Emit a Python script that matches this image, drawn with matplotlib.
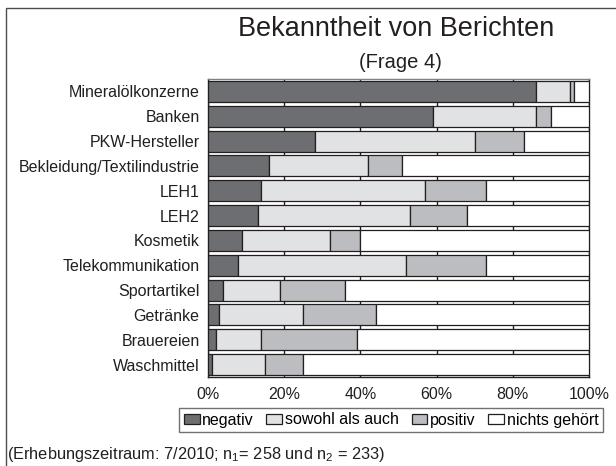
import numpy as np
import matplotlib.pyplot as plt
from matplotlib.patches import Rectangle

plt.rcParams['font.family'] = ['Liberation Sans', 'DejaVu Sans']
plt.rcParams['mathtext.default'] = 'regular'

branchen = ["Mineralölkonzerne", "Banken", "PKW-Hersteller", "Bekleidung/Textilindustrie",
            "LEH1", "LEH2", "Kosmetik", "Telekommunikation", "Sportartikel",
            "Getränke", "Brauereien", "Waschmittel"]
negativ = [86, 59, 28, 16, 14, 13, 9, 8, 4, 3, 2, 1]
sowohl = [9, 27, 42, 26, 43, 40, 23, 44, 15, 22, 12, 14]
positiv = [1, 4, 13, 9, 16, 15, 8, 21, 17, 19, 25, 10]
nichts = [4, 10, 17, 49, 27, 32, 60, 27, 64, 56, 61, 75]

reihen = [("negativ", negativ, "#6d6e71"),
          ("sowohl als auch", sowohl, "#e1e2e4"),
          ("positiv", positiv, "#bcbdc0"),
          ("nichts gehört", nichts, "#ffffff")]

fig = plt.figure(figsize=(6.16, 4.66), dpi=100)
ax = fig.add_axes([208/616, 1-377/466, 381/616, 298/466])

y = np.arange(len(branchen))
links = np.zeros(len(branchen))
handles = []
for name, werte, farbe in reihen:
    b = ax.barh(y, werte, left=links, height=0.85, color=farbe,
                edgecolor="#231f20", linewidth=0.9, label=name, zorder=3)
    handles.append(b)
    links += np.array(werte)

ax.set_xlim(0, 100)
ax.set_ylim(len(branchen) - 0.5, -0.5)
ax.set_yticks(y)
ax.set_yticklabels(branchen, fontsize=11.5, color="#231f20")
ax.set_xticks([0, 20, 40, 60, 80, 100])
ax.set_xticklabels(["0%", "20%", "40%", "60%", "80%", "100%"], fontsize=11.5, color="#231f20")
ax.tick_params(axis="both", length=0)
ax.tick_params(axis="x", pad=7)
ax.tick_params(axis="y", pad=6)
ax.xaxis.grid(True, color="#231f20", linewidth=1.0, zorder=0)
ax.set_axisbelow(True)
for s in ["left", "bottom", "right"]:
    ax.spines[s].set_color("#231f20")
    ax.spines[s].set_linewidth(1.0)
ax.spines["top"].set_color("#808080")
ax.spines["top"].set_linewidth(1.0)

fig.text(396/616, 1-36/466, "Bekanntheit von Berichten", ha="center", va="baseline",
         fontsize=19.5, color="#231f20")
fig.text(400/616, 1-68/466, "(Frage 4)", ha="center", va="baseline",
         fontsize=14.5, color="#231f20")

leg = fig.legend(handles=handles, loc="center", bbox_to_anchor=(391/616, 1-420/466),
                 ncol=4, fontsize=11.5, frameon=True, fancybox=False, handlelength=1.0,
                 handleheight=0.65, handletextpad=0.15, columnspacing=0.8,
                 borderpad=0.3, borderaxespad=0)
leg.get_frame().set_edgecolor("#4d4d4d")
leg.get_frame().set_linewidth(1.0)

fig.text(7/616, 1-455/466, r"(Erhebungszeitraum: 7/2010; n$_1$= 258 und n$_2$ = 233)",
         ha="left", va="center", fontsize=11.8, color="#231f20")

# Rahmen um die Grafik
fig.add_artist(Rectangle((6/616, -0.1), 1.2, 1 - 8/466 + 0.1, transform=fig.transFigure,
                         fill=False, edgecolor="#4d4d4d", linewidth=1.0))

fig.savefig("out.png", dpi=100)
